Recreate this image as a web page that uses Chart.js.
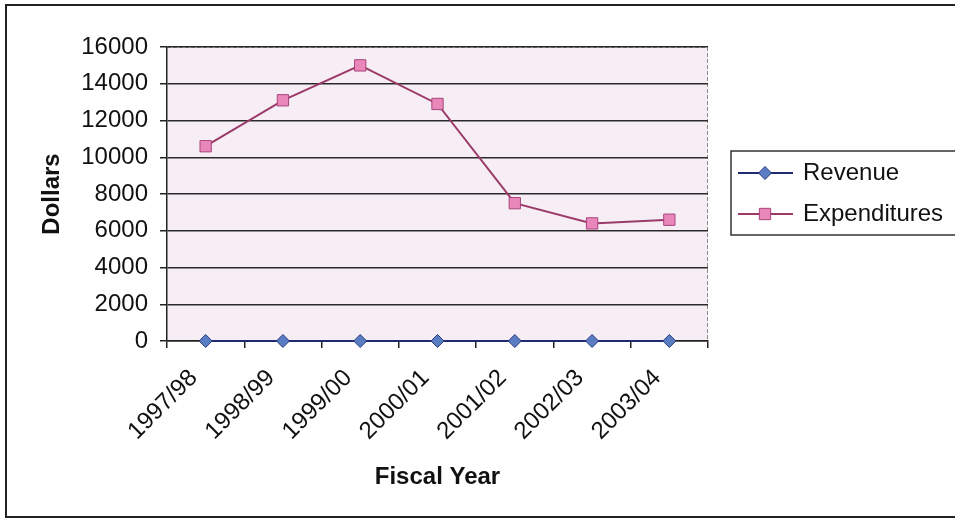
<!DOCTYPE html>
<html>
<head>
<meta charset="utf-8">
<script src="https://cdn.jsdelivr.net/npm/chart.js@4/dist/chart.umd.min.js"></script>
<style>
  html, body { margin: 0; padding: 0; background: #fff; overflow: hidden; }
  #wrap { position: relative; width: 955px; height: 523px; }
  #frame {
    position: absolute; left: 5px; top: 4px; width: 1000px; height: 514px;
    border: 2px solid #222; box-sizing: border-box;
  }
  #chart { position: absolute; left: 0; top: 0; }
</style>
</head>
<body>
<div id="wrap">
  <div id="frame"></div>
  <canvas id="chart" width="955" height="523"></canvas>
</div>
<script>
const fiscalYears = ["1997/98", "1998/99", "1999/00", "2000/01", "2001/02", "2002/03", "2003/04"];
const revenue = [0, 0, 0, 0, 0, 0, 0];
const expenditures = [10600, 13100, 15000, 12900, 7500, 6400, 6600];

const Y_MIN = 0;
const Y_MAX = 16000;
const Y_STEP = 2000;

const FONT = "'Liberation Sans', Arial, sans-serif";
const TEXT = "#111";

// 플롯 영역 배경 + 테두리
const plotArea = {
  id: "plotArea",
  beforeDraw(chart) {
    const { ctx, chartArea: a } = chart;
    ctx.save();
    ctx.fillStyle = "#f6eef4";
    ctx.fillRect(a.left, a.top, a.right - a.left, a.bottom - a.top);
    ctx.strokeStyle = "#8a8a8a";
    ctx.lineWidth = 1;
    ctx.setLineDash([4, 2]);
    ctx.beginPath();
    ctx.moveTo(a.left, a.top + 0.5);
    ctx.lineTo(a.right - 0.5, a.top + 0.5);
    ctx.lineTo(a.right - 0.5, a.bottom);
    ctx.stroke();
    ctx.restore();
  }
};

// 엑셀 스타일 범례 (오른쪽이 잘린 상자)
const boxLegend = {
  id: "boxLegend",
  afterDraw(chart) {
    const { ctx } = chart;
    const left = 731, top = 151, bottom = 235;
    ctx.save();
    ctx.fillStyle = "#fff";
    ctx.fillRect(left, top, 400, bottom - top);
    ctx.strokeStyle = "#333";
    ctx.lineWidth = 1.5;
    ctx.strokeRect(left, top, 400, bottom - top);

    const rows = [173, 214];
    chart.data.datasets.forEach((ds, i) => {
      const y = rows[i];
      ctx.strokeStyle = ds.borderColor;
      ctx.lineWidth = 2;
      ctx.beginPath();
      ctx.moveTo(738, y);
      ctx.lineTo(793, y);
      ctx.stroke();
      ctx.fillStyle = ds.pointBackgroundColor;
      ctx.strokeStyle = ds.pointBorderColor;
      ctx.lineWidth = 1;
      Chart.helpers.drawPoint(ctx, { pointStyle: ds.pointStyle, radius: ds.pointRadius, borderWidth: 1 }, 765, y);
      ctx.fillStyle = TEXT;
      ctx.font = "24px " + FONT;
      ctx.textBaseline = "middle";
      ctx.textAlign = "left";
      ctx.fillText(ds.label, 803, y);
    });
    ctx.restore();
  }
};

new Chart(document.getElementById("chart"), {
  type: "line",
  data: {
    labels: fiscalYears,
    datasets: [
      {
        label: "Revenue",
        data: revenue,
        borderColor: "#1f2a70",
        borderWidth: 2,
        pointStyle: "rectRot",
        pointRadius: 6.5,
        pointBackgroundColor: "#5a7cc2",
        pointBorderColor: "#2a3a80",
        pointBorderWidth: 1,
        tension: 0,
        clip: false
      },
      {
        label: "Expenditures",
        data: expenditures,
        borderColor: "#9b3a6a",
        borderWidth: 2,
        pointStyle: "rect",
        pointRadius: 8,
        pointBackgroundColor: "#e987bb",
        pointBorderColor: "#a8447c",
        pointBorderWidth: 1,
        tension: 0,
        clip: false
      }
    ]
  },
  options: {
    responsive: false,
    animation: false,
    layout: {
      padding: { left: 0, top: 47, right: 247, bottom: 0 }
    },
    plugins: {
      legend: { display: false },
      tooltip: { enabled: false }
    },
    scales: {
      x: {
        offset: true,
        afterFit: (s) => { s.height = 182; },
        grid: {
          offset: true,
          drawOnChartArea: false,
          drawTicks: true,
          tickLength: 7,
          color: "#222",
          lineWidth: 1.5
        },
        border: { color: "#222", width: 1.5 },
        ticks: {
          color: TEXT,
          font: { family: FONT, size: 24 },
          maxRotation: 45,
          minRotation: 45,
          padding: 16,
          labelOffset: -12,
          autoSkip: false
        },
        title: {
          display: true,
          text: "Fiscal Year",
          color: TEXT,
          font: { family: FONT, size: 24, weight: "bold" },
          padding: { top: 0, bottom: 31 }
        }
      },
      y: {
        min: Y_MIN,
        max: Y_MAX,
        afterFit: (s) => { s.width = 167; },
        grid: {
          color: "#2a2a2a",
          lineWidth: 1.5,
          tickLength: 7,
          tickColor: "#222"
        },
        border: { color: "#222", width: 1.5 },
        ticks: {
          stepSize: Y_STEP,
          color: TEXT,
          font: { family: FONT, size: 24 },
          padding: 12,
          callback: (v) => String(v)
        },
        title: {
          display: true,
          text: "Dollars",
          color: TEXT,
          font: { family: FONT, size: 24, weight: "bold" },
          padding: { top: 38, bottom: 0 }
        }
      }
    }
  },
  plugins: [plotArea, boxLegend]
});
</script>
</body>
</html>
